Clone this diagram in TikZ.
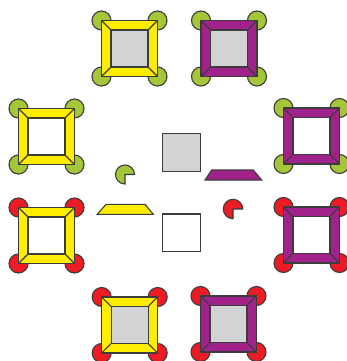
\documentclass[tikz,border=0pt]{standalone}
\definecolor{fyellow}{RGB}{255,237,0}
\definecolor{fpurple}{RGB}{161,34,138}
\definecolor{fgreen}{RGB}{164,199,57}
\definecolor{fred}{RGB}{237,28,36}
\definecolor{fgray}{RGB}{209,211,212}
\definecolor{outl}{RGB}{60,60,60}
\tikzset{edge/.style={draw=outl,line width=1.1pt,line join=miter}}
\newcommand\drawframe[4]{%
\begin{scope}[shift={#1}]
\draw[edge,fill=#4] (-28,-28) circle[radius=9.5];
\draw[edge,fill=#4] (28,-28) circle[radius=9.5];
\draw[edge,fill=#4] (28,28) circle[radius=9.5];
\draw[edge,fill=#4] (-28,28) circle[radius=9.5];
\draw[edge,fill=#2] (-28,-28) rectangle (28,28);
\draw[edge,fill=#3] (-18.5,-18.5) rectangle (18.5,18.5);
\draw[edge] (-28,-28)--(-18.5,-18.5) (28,-28)--(18.5,-18.5) (28,28)--(18.5,18.5) (-28,28)--(-18.5,18.5);
\end{scope}}
\begin{document}
\begin{tikzpicture}[x=1pt,y=-1pt]
\useasboundingbox (0,0) rectangle (347,361);
% top
\drawframe{(129.5,48.5)}{fyellow}{fgray}{fgreen}
\drawframe{(229,48.5)}{fpurple}{fgray}{fgreen}
% left
\drawframe{(46.5,136.5)}{fyellow}{white}{fgreen}
\drawframe{(46.5,235.5)}{fyellow}{white}{fred}
% right
\drawframe{(311.5,136)}{fpurple}{white}{fgreen}
\drawframe{(311.5,235)}{fpurple}{white}{fred}
% bottom
\drawframe{(129.7,325)}{fyellow}{fgray}{fred}
\drawframe{(228.5,324)}{fpurple}{fgray}{fred}
% centre pieces
\draw[edge,fill=fgray] (162.7,133.3) rectangle (200.7,171.7);
\draw[edge,fill=white] (162.7,214) rectangle (200.7,251.7);
\draw[edge,fill=fpurple] (205,180)--(261.7,180)--(253.3,170)--(211.7,170)--cycle;
\draw[edge,fill=fyellow] (97.3,214.3)--(153.3,214.3)--(145,204.3)--(106,204.3)--cycle;
\draw[edge,fill=fgreen] (125,174.5) -- +(90:9.5) arc[start angle=90,end angle=360,radius=9.5] -- cycle;
\draw[edge,fill=fred] (233,209) -- +(90:9.7) arc[start angle=90,end angle=360,radius=9.7] -- cycle;
\end{tikzpicture}
\end{document}
